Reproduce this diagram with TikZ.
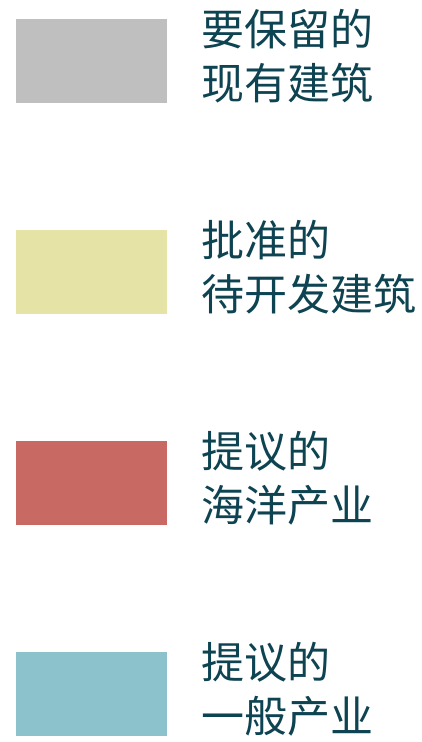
\documentclass[tikz,border=0pt]{standalone}
\usepackage{fontspec}
\newfontfamily\cjk{Noto Sans CJK SC}
\definecolor{cgray}{HTML}{BFBFBF}
\definecolor{cyellow}{HTML}{E6E3A6}
\definecolor{cred}{HTML}{C86A63}
\definecolor{cblue}{HTML}{8BC2CC}
\definecolor{ctext}{HTML}{0E4352}
\begin{document}
\begin{tikzpicture}[x=1pt,y=-1pt,
  swatch/.style={draw=none,inner sep=0pt,outer sep=0pt},
  lbl/.style={anchor=base west,inner sep=0pt,outer sep=0pt,text=ctext,font=\cjk\fontsize{43}{54}\selectfont}]
\useasboundingbox (0,0) rectangle (421,742);
\foreach \c/\a/\b [count=\i from 0] in {cgray/要保留的/现有建筑, cyellow/批准的/待开发建筑, cred/提议的/海洋产业, cblue/提议的/一般产业}{
  \pgfmathsetmacro{\yo}{211*\i}
  \fill[\c] (16,19+\yo) rectangle (167,103+\yo);
  \node[lbl] (a\i) at (201,45+\yo) {\a};
  \node[lbl] (b\i) at (201,99+\yo) {\b};
}
\end{tikzpicture}
\end{document}
